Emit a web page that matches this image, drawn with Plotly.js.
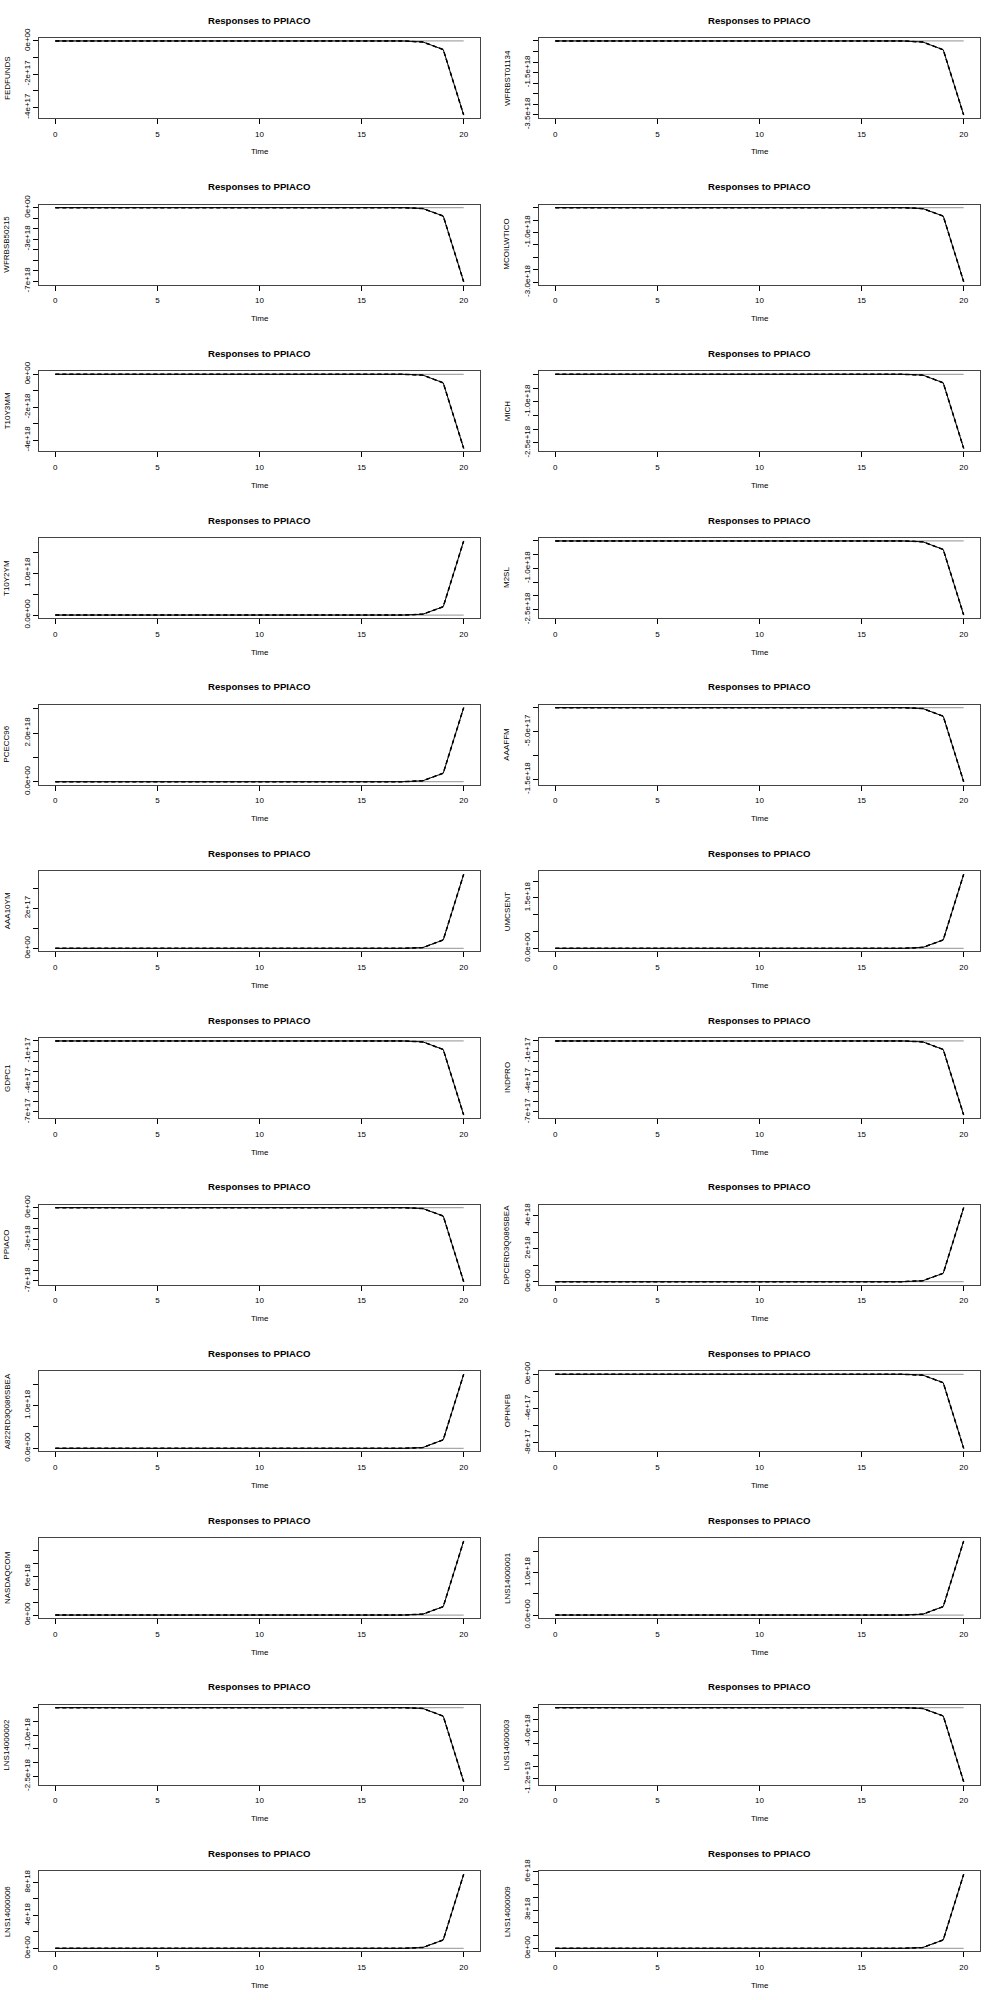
<!DOCTYPE html>
<html>
<head>
<meta charset="utf-8">
<script src="https://cdn.plot.ly/plotly-3.0.1.min.js"></script>
<style>html,body{margin:0;padding:0;background:#fff}#chart{width:1000px;height:2000px}</style>
</head>
<body>
<div id="chart"></div>
<script>
// Horizon (time steps)
const horizon = [0,1,2,3,4,5,6,7,8,9,10,11,12,13,14,15,16,17,18,19,20];
const xTicks = [0,5,10,15,20];
const impulseName = "PPIACO";

// Response variables in panel order
const variables = ["FEDFUNDS","WFRBST01134","WFRBSB50215","MCOILWTICO","T10Y3MM","MICH","T10Y2YM","M2SL",
  "PCECC96","AAAFFM","AAA10YM","UMCSENT","GDPC1","INDPRO","PPIACO","DPCERD3Q086SBEA",
  "A822RD3Q086SBEA","OPHNFB","NASDAQCOM","LNS14000001","LNS14000002","LNS14000003","LNS14000006","LNS14000009"];

// Impulse responses
const FEDFUNDS        = [0,0,0,0,0,0,0,0,0,0,0,0,0,0,0,0,0,0,-6e15,-5.2e16,-4.47e17];
const WFRBST01134     = [0,0,0,0,0,0,0,0,0,0,0,0,0,0,0,0,0,0,-5e16,-4.2e17,-3.52e18];
const WFRBSB50215     = [0,0,0,0,0,0,0,0,0,0,0,0,0,0,0,0,0,0,-9e16,-8.0e17,-7.06e18];
const MCOILWTICO      = [0,0,0,0,0,0,0,0,0,0,0,0,0,0,0,0,0,0,-4e16,-3.4e17,-2.98e18];
const T10Y3MM         = [0,0,0,0,0,0,0,0,0,0,0,0,0,0,0,0,0,0,-5e16,-5.2e17,-4.5e18];
const MICH            = [0,0,0,0,0,0,0,0,0,0,0,0,0,0,0,0,0,0,-3e16,-3.1e17,-2.7e18];
const T10Y2YM         = [0,0,0,0,0,0,0,0,0,0,0,0,0,0,0,0,0,0,2e16,2.0e17,1.78e18];
const M2SL            = [0,0,0,0,0,0,0,0,0,0,0,0,0,0,0,0,0,0,-3e16,-3.1e17,-2.7e18];
const PCECC96         = [0,0,0,0,0,0,0,0,0,0,0,0,0,0,0,0,0,0,4e16,3.5e17,3.05e18];
const AAAFFM          = [0,0,0,0,0,0,0,0,0,0,0,0,0,0,0,0,0,0,-2e16,-1.8e17,-1.55e18];
const AAA10YM         = [0,0,0,0,0,0,0,0,0,0,0,0,0,0,0,0,0,0,4e15,4.2e16,3.7e17];
const UMCSENT         = [0,0,0,0,0,0,0,0,0,0,0,0,0,0,0,0,0,0,3e16,2.5e17,2.2e18];
const GDPC1           = [0,0,0,0,0,0,0,0,0,0,0,0,0,0,0,0,0,0,-9e15,-8.4e16,-7.3e17];
const INDPRO          = [0,0,0,0,0,0,0,0,0,0,0,0,0,0,0,0,0,0,-9e15,-8.4e16,-7.3e17];
const PPIACO          = [0,0,0,0,0,0,0,0,0,0,0,0,0,0,0,0,0,0,-9e16,-8.0e17,-7.07e18];
const DPCERD3Q086SBEA = [0,0,0,0,0,0,0,0,0,0,0,0,0,0,0,0,0,0,6e16,5.1e17,4.49e18];
const A822RD3Q086SBEA = [0,0,0,0,0,0,0,0,0,0,0,0,0,0,0,0,0,0,2e16,2.0e17,1.73e18];
const OPHNFB          = [0,0,0,0,0,0,0,0,0,0,0,0,0,0,0,0,0,0,-1e16,-9.8e16,-8.63e17];
const NASDAQCOM       = [0,0,0,0,0,0,0,0,0,0,0,0,0,0,0,0,0,0,1.4e17,1.3e18,1.15e19];
const LNS14000001     = [0,0,0,0,0,0,0,0,0,0,0,0,0,0,0,0,0,0,2e16,2.0e17,1.75e18];
const LNS14000002     = [0,0,0,0,0,0,0,0,0,0,0,0,0,0,0,0,0,0,-3e16,-3.1e17,-2.7e18];
const LNS14000003     = [0,0,0,0,0,0,0,0,0,0,0,0,0,0,0,0,0,0,-1.5e17,-1.4e18,-1.25e19];
const LNS14000006     = [0,0,0,0,0,0,0,0,0,0,0,0,0,0,0,0,0,0,1.1e17,1.02e18,8.98e18];
const LNS14000009     = [0,0,0,0,0,0,0,0,0,0,0,0,0,0,0,0,0,0,7e16,6.6e17,5.8e18];

// Y tick values and labels per panel
const FEDFUNDS_ticks = [0,-1e17,-2e17,-3e17,-4e17];
const FEDFUNDS_labels = ["0e+00","","-2e+17","","-4e+17"];
const WFRBST01134_ticks = [0,-5e17,-1e18,-1.5e18,-2e18,-2.5e18,-3e18,-3.5e18];
const WFRBST01134_labels = ["","","","-1.5e+18","","","","-3.5e+18"];
const WFRBSB50215_ticks = [0,-1e18,-2e18,-3e18,-4e18,-5e18,-6e18,-7e18];
const WFRBSB50215_labels = ["0e+00","","","-3e+18","","","","-7e+18"];
const MCOILWTICO_ticks = [0,-5e17,-1e18,-1.5e18,-2e18,-2.5e18,-3e18];
const MCOILWTICO_labels = ["","","-1.0e+18","","","","-3.0e+18"];
const T10Y3MM_ticks = [0,-1e18,-2e18,-3e18,-4e18];
const T10Y3MM_labels = ["0e+00","","-2e+18","","-4e+18"];
const MICH_ticks = [0,-5e17,-1e18,-1.5e18,-2e18,-2.5e18];
const MICH_labels = ["","","-1.0e+18","","","-2.5e+18"];
const T10Y2YM_ticks = [0,5e17,1e18,1.5e18];
const T10Y2YM_labels = ["0.0e+00","","1.0e+18",""];
const M2SL_ticks = [0,-5e17,-1e18,-1.5e18,-2e18,-2.5e18];
const M2SL_labels = ["","","-1.0e+18","","","-2.5e+18"];
const PCECC96_ticks = [0,1e18,2e18,3e18];
const PCECC96_labels = ["0.0e+00","","2.0e+18",""];
const AAAFFM_ticks = [0,-5e17,-1e18,-1.5e18];
const AAAFFM_labels = ["","-5.0e+17","","-1.5e+18"];
const AAA10YM_ticks = [0,1e17,2e17,3e17];
const AAA10YM_labels = ["0e+00","","2e+17",""];
const UMCSENT_ticks = [0,5e17,1e18,1.5e18,2e18];
const UMCSENT_labels = ["0.0e+00","","","1.5e+18",""];
const GDPC1_ticks = [0,-1e17,-2e17,-3e17,-4e17,-5e17,-6e17,-7e17];
const GDPC1_labels = ["","-1e+17","","","-4e+17","","","-7e+17"];
const INDPRO_ticks = [0,-1e17,-2e17,-3e17,-4e17,-5e17,-6e17,-7e17];
const INDPRO_labels = ["","-1e+17","","","-4e+17","","","-7e+17"];
const PPIACO_ticks = [0,-1e18,-2e18,-3e18,-4e18,-5e18,-6e18,-7e18];
const PPIACO_labels = ["0e+00","","","-3e+18","","","","-7e+18"];
const DPCERD3Q086SBEA_ticks = [0,1e18,2e18,3e18,4e18];
const DPCERD3Q086SBEA_labels = ["0e+00","","2e+18","","4e+18"];
const A822RD3Q086SBEA_ticks = [0,5e17,1e18,1.5e18];
const A822RD3Q086SBEA_labels = ["0.0e+00","","1.0e+18",""];
const OPHNFB_ticks = [0,-2e17,-4e17,-6e17,-8e17];
const OPHNFB_labels = ["0e+00","","-4e+17","","-8e+17"];
const NASDAQCOM_ticks = [0,2e18,4e18,6e18,8e18,1e19];
const NASDAQCOM_labels = ["0e+00","","","6e+18","",""];
const LNS14000001_ticks = [0,5e17,1e18,1.5e18];
const LNS14000001_labels = ["0.0e+00","","1.0e+18",""];
const LNS14000002_ticks = [0,-5e17,-1e18,-1.5e18,-2e18,-2.5e18];
const LNS14000002_labels = ["","","-1.0e+18","","","-2.5e+18"];
const LNS14000003_ticks = [0,-2e18,-4e18,-6e18,-8e18,-1e19,-1.2e19];
const LNS14000003_labels = ["","","-4.0e+18","","","","-1.2e+19"];
const LNS14000006_ticks = [0,2e18,4e18,6e18,8e18];
const LNS14000006_labels = ["0e+00","","4e+18","","8e+18"];
const LNS14000009_ticks = [0,1e18,2e18,3e18,4e18,5e18,6e18];
const LNS14000009_labels = ["0e+00","","","3e+18","","","6e+18"];

const responses = [FEDFUNDS,WFRBST01134,WFRBSB50215,MCOILWTICO,T10Y3MM,MICH,T10Y2YM,M2SL,
  PCECC96,AAAFFM,AAA10YM,UMCSENT,GDPC1,INDPRO,PPIACO,DPCERD3Q086SBEA,
  A822RD3Q086SBEA,OPHNFB,NASDAQCOM,LNS14000001,LNS14000002,LNS14000003,LNS14000006,LNS14000009];
const tickSets = [FEDFUNDS_ticks,WFRBST01134_ticks,WFRBSB50215_ticks,MCOILWTICO_ticks,T10Y3MM_ticks,MICH_ticks,T10Y2YM_ticks,M2SL_ticks,
  PCECC96_ticks,AAAFFM_ticks,AAA10YM_ticks,UMCSENT_ticks,GDPC1_ticks,INDPRO_ticks,PPIACO_ticks,DPCERD3Q086SBEA_ticks,
  A822RD3Q086SBEA_ticks,OPHNFB_ticks,NASDAQCOM_ticks,LNS14000001_ticks,LNS14000002_ticks,LNS14000003_ticks,LNS14000006_ticks,LNS14000009_ticks];
const labelSets = [FEDFUNDS_labels,WFRBST01134_labels,WFRBSB50215_labels,MCOILWTICO_labels,T10Y3MM_labels,MICH_labels,T10Y2YM_labels,M2SL_labels,
  PCECC96_labels,AAAFFM_labels,AAA10YM_labels,UMCSENT_labels,GDPC1_labels,INDPRO_labels,PPIACO_labels,DPCERD3Q086SBEA_labels,
  A822RD3Q086SBEA_labels,OPHNFB_labels,NASDAQCOM_labels,LNS14000001_labels,LNS14000002_labels,LNS14000003_labels,LNS14000006_labels,LNS14000009_labels];

const W = 1000, H = 2000, rowH = H / 12;
const FONT = "Liberation Sans, Arial, Helvetica, sans-serif";
const traces = [];
const layout = {
  width: W, height: H, margin: {l:0, r:0, t:0, b:0},
  paper_bgcolor: "#ffffff", plot_bgcolor: "#ffffff",
  showlegend: false, annotations: [],
  font: {family: FONT, size: 8, color: "#000"}
};

variables.forEach((name, i) => {
  const r = Math.floor(i / 2), c = i % 2;
  const x0 = c * 500 + 39, x1 = c * 500 + 480;
  const y0 = r * rowH + 38, y1 = r * rowH + 118;
  const sfx = i === 0 ? "" : String(i + 1);
  const xa = "x" + sfx, ya = "y" + sfx;
  const resp = responses[i];
  const all = resp.concat([0]);
  const mn = Math.min(...all), mx = Math.max(...all);
  const pad = 0.04 * (mx - mn);

  traces.push({x: [horizon[0], horizon[horizon.length-1]], y: [0, 0], xaxis: xa, yaxis: ya, mode: "lines",
    line: {color: "#a8a8a8", width: 1.3}, hoverinfo: "skip"});
  traces.push({x: horizon, y: resp, xaxis: xa, yaxis: ya, mode: "lines",
    line: {color: "#000", width: 1}, name: name});
  traces.push({x: horizon, y: resp, xaxis: xa, yaxis: ya, mode: "lines",
    line: {color: "#000", width: 1.5, dash: "4px,3px"}, name: name + " lower"});
  traces.push({x: horizon, y: resp, xaxis: xa, yaxis: ya, mode: "lines",
    line: {color: "#000", width: 1, dash: "4px,3px"}, name: name + " upper"});

  layout["xaxis" + sfx] = {
    domain: [x0 / W, x1 / W], anchor: ya, range: [-0.8, 20.8],
    tickmode: "array", tickvals: xTicks, ticktext: xTicks.map(String),
    ticks: "outside", ticklen: 5, tickwidth: 1, tickcolor: "#000",
    showline: true, mirror: true, linecolor: "#444", linewidth: 1,
    showgrid: false, zeroline: false, tickfont: {family: FONT, size: 8, color: "#000"},
    ticklabelstandoff: 3, fixedrange: true
  };
  layout["yaxis" + sfx] = {
    domain: [1 - y1 / H, 1 - y0 / H], anchor: xa, range: [mn - pad, mx + pad],
    tickmode: "array", tickvals: tickSets[i], ticktext: labelSets[i], tickangle: -90,
    ticks: "outside", ticklen: 5, tickwidth: 1, tickcolor: "#000",
    showline: true, mirror: true, linecolor: "#444", linewidth: 1,
    showgrid: false, zeroline: false, tickfont: {family: FONT, size: 8, color: "#000"},
    fixedrange: true
  };
  layout.annotations.push({
    text: "<b>Responses to " + impulseName + "</b>", xref: "paper", yref: "paper",
    x: (x0 + x1) / 2 / W, y: 1 - (r * rowH + 20) / H, xanchor: "center", yanchor: "middle",
    showarrow: false, font: {family: FONT, size: 9.6, color: "#000"}
  });
  layout.annotations.push({
    text: "Time", xref: "paper", yref: "paper",
    x: (x0 + x1) / 2 / W, y: 1 - (r * rowH + 152) / H, xanchor: "center", yanchor: "middle",
    showarrow: false, font: {family: FONT, size: 8, color: "#000"}
  });
  layout.annotations.push({
    text: name, xref: "paper", yref: "paper", textangle: -90,
    x: (c * 500 + 7) / W, y: 1 - ((y0 + y1) / 2) / H, xanchor: "center", yanchor: "middle",
    showarrow: false, font: {family: FONT, size: 8, color: "#000"}
  });
});

Plotly.newPlot("chart", traces, layout, {displayModeBar: false, staticPlot: true});
</script>
</body>
</html>
